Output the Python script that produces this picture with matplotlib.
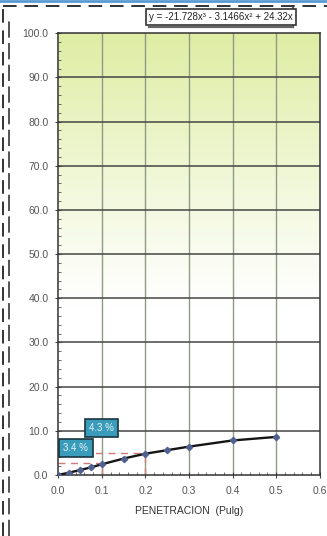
import numpy as np
import matplotlib
matplotlib.use("Agg")
import matplotlib.pyplot as plt
from matplotlib.lines import Line2D
import matplotlib.patheffects as pe

penetracion = [0.0, 0.025, 0.05, 0.075, 0.1, 0.15, 0.2, 0.25, 0.3, 0.4, 0.5]
carga = [0.0, 0.5, 1.1, 1.7, 2.4, 3.7, 4.8, 5.6, 6.4, 7.8, 8.6]
x_ticks = [0.0, 0.1, 0.2, 0.3, 0.4, 0.5, 0.6]
y_ticks = [0, 10, 20, 30, 40, 50, 60, 70, 80, 90, 100]
ecuacion = "y = -21.728x³ - 3.1466x² + 24.32x"
cbr_labels = ["3.4 %", "4.3 %"]
cbr_x = [0.1, 0.2]
cbr_y = [2.6, 4.9]

plt.rcParams['font.family'] = ['Liberation Sans', 'DejaVu Sans']

fig = plt.figure(figsize=(3.27, 5.36), dpi=100)
fig.patch.set_facecolor('white')
ax = fig.add_axes([0.178, 0.114, 0.800, 0.824])
ax.set_xlim(0, 0.6)
ax.set_ylim(0, 100)

# gradient background
grad = np.linspace(0, 1, 256).reshape(-1, 1)
top = np.array([0.87, 0.93, 0.64])
white = np.array([1.0, 1.0, 1.0])
t = np.clip((grad - 0.38) / 0.62, 0, 1) ** 1.1
img = white * (1 - t) + top * t
img = np.repeat(img[:, None, :], 2, axis=1).reshape(256, 2, 3)
ax.imshow(img, extent=[0, 0.6, 0, 100], origin='lower', aspect='auto', zorder=0)

# grid
for xv in x_ticks[1:-1]:
    ax.axvline(xv, color='#8f9c84', lw=1.0, zorder=1)
for yv in y_ticks[1:-1]:
    ax.axhline(yv, color='#454545', lw=1.1, zorder=1)

# red dashed reference lines
for xv, yv in zip(cbr_x, cbr_y):
    ax.plot([0, xv], [yv, yv], color='#d07a7a', lw=1.0, ls=(0, (5, 4)), zorder=2)
    ax.plot([xv, xv], [0, yv], color='#d07a7a', lw=1.0, ls=(0, (5, 4)), zorder=2)

# data
ax.plot(penetracion, carga, color='#151515', lw=1.7, marker='D', ms=3.2,
        mfc='#50608f', mec='#50608f', zorder=4)

# CBR boxes
box = dict(boxstyle='square,pad=0.45', fc='#3a9cba', ec='#1a3540', lw=1.2)
ax.text(0.012, 6.1, cbr_labels[0], fontsize=7, color='#e8f4f8', zorder=5,
        va='center', bbox=box)
ax.text(0.071, 10.6, cbr_labels[1], fontsize=7, color='#e8f4f8', zorder=5,
        va='center', bbox=box)

ax.set_xticks(x_ticks)
ax.set_xticklabels([f"{v:.1f}" for v in x_ticks])
ax.set_yticks(y_ticks)
ax.set_yticklabels([f"{v:.1f}" for v in y_ticks])
ax.set_xticks(np.arange(0, 0.6001, 0.02), minor=True)
ax.set_yticks(np.arange(0, 100.01, 2), minor=True)
ax.tick_params(axis='both', which='major', labelsize=7.5, colors='#444444',
               labelcolor='#555555', length=4, direction='inout')
ax.tick_params(axis='y', which='major', pad=5)
ax.tick_params(axis='x', which='major', pad=6)
ax.tick_params(axis='both', which='minor', length=2.5, direction='in', color='#555555')
for s in ax.spines.values():
    s.set_color('#333333')
    s.set_linewidth(1.1)

ax.set_xlabel("PENETRACION  (Pulg)", fontsize=7.5, color='#333333', labelpad=7)

# equation box with shadow
fig.text(0.675, 0.968, ecuacion, fontsize=7, ha='center', va='center', color='#222222',
         bbox=dict(boxstyle='square,pad=0.3', fc='white', ec='#333333', lw=1.2),
         path_effects=[])
fig.add_artist(Line2D([0.455, 0.895], [0.949, 0.949], transform=fig.transFigure,
                      color='#666666', lw=1.6))
fig.add_artist(Line2D([0.895, 0.895], [0.949, 0.985], transform=fig.transFigure,
                      color='#666666', lw=1.6))

# dashed frame
fig.add_artist(Line2D([0.01, 1.0], [0.988, 0.988], transform=fig.transFigure,
                      color='#333333', lw=1.4, ls=(0, (7, 4))))
fig.add_artist(Line2D([0.01, 0.01], [0.0, 0.988], transform=fig.transFigure,
                      color='#333333', lw=1.4, ls=(0, (7, 4))))
fig.add_artist(Line2D([0.027, 0.027], [0.0, 0.965], transform=fig.transFigure,
                      color='#444444', lw=1.3, ls=(0, (9, 3))))
fig.add_artist(Line2D([0.0, 1.0], [0.999, 0.999], transform=fig.transFigure,
                      color='#5a9ad0', lw=2))

fig.savefig("out.png", dpi=100)
